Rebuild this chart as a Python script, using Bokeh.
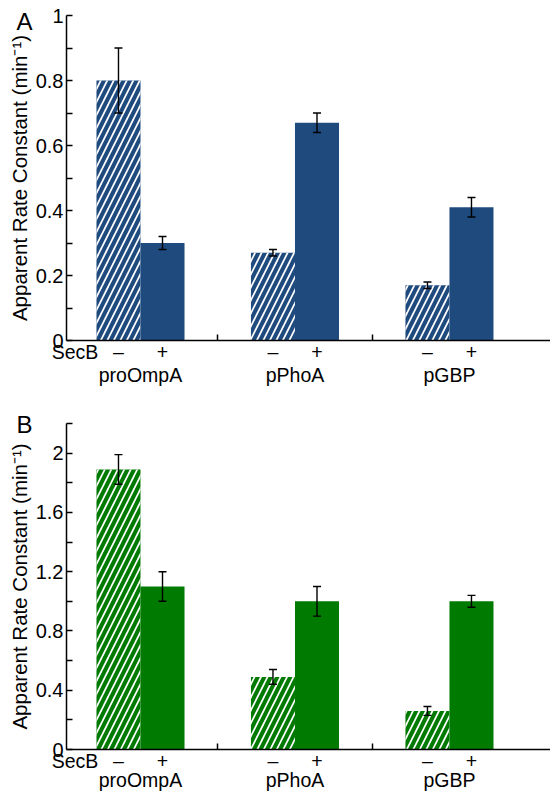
from bokeh.plotting import figure
from bokeh.models import (ColumnDataSource, FixedTicker, NumeralTickFormatter, Whisker,
                          TeeHead, Range1d, LinearAxis, CustomJSTickFormatter)
from bokeh.layouts import column
from bokeh.embed import file_html
from bokeh.resources import INLINE

# ---------------- data ----------------
groups = ["proOmpA", "pPhoA", "pGBP"]
secb_title = "SecB"
secb_states = ["\u2013", "+"]

a_minus = [0.80, 0.27, 0.17]
a_minus_err = [0.10, 0.01, 0.01]
a_plus = [0.30, 0.67, 0.41]
a_plus_err = [0.02, 0.03, 0.03]

b_minus = [1.89, 0.49, 0.26]
b_minus_err = [0.10, 0.05, 0.03]
b_plus = [1.10, 1.00, 1.00]
b_plus_err = [0.10, 0.10, 0.04]

a_major_ticks = [0, 0.2, 0.4, 0.6, 0.8, 1.0]
a_minor_ticks = [0.1, 0.3, 0.5, 0.7, 0.9]
b_major_ticks = [0, 0.4, 0.8, 1.2, 1.6, 2.0]
b_minor_ticks = [0.2, 0.6, 1.0, 1.4, 1.8, 2.2]

y_title = "Apparent Rate Constant (min\u207b\u00b9)"

BLUE = "#1f4a7e"
GREEN = "#007a00"
FONT = "Liberation Sans"
FS_X = "19.5px"
FS_Y = "20px"

OFF = 0.1425
BW = 0.285
XR = (0.521, 3.654)
SECB_X = 0.576


def idx_formatter(labels):
    return CustomJSTickFormatter(args=dict(labels=labels), code="return labels[index]")


def panel(minus, minus_err, plus, plus_err, color, ymax, major, minor,
          height, top_b, bottom_b, letter, letter_y, grp_standoff):
    p = figure(width=550, height=height, x_range=Range1d(*XR), y_range=Range1d(0, ymax),
               output_backend="svg", toolbar_location=None,
               min_border_left=66, min_border_right=0,
               min_border_top=top_b, min_border_bottom=bottom_b)
    p.outline_line_color = None
    p.xgrid.visible = False
    p.ygrid.visible = False
    p.background_fill_color = "white"
    p.border_fill_color = "white"

    n = len(groups)
    xm = [i + 1 - OFF for i in range(n)]
    xp = [i + 1 + OFF for i in range(n)]

    src_m = ColumnDataSource(dict(x=xm, top=minus,
                                  upper=[v + e for v, e in zip(minus, minus_err)],
                                  lower=[v - e for v, e in zip(minus, minus_err)]))
    src_p = ColumnDataSource(dict(x=xp, top=plus,
                                  upper=[v + e for v, e in zip(plus, plus_err)],
                                  lower=[v - e for v, e in zip(plus, plus_err)]))

    p.vbar(x="x", top="top", width=BW, source=src_m, fill_color=color, line_color=None,
           hatch_pattern="/", hatch_color="white", hatch_scale=13, hatch_weight=1.7)
    p.vbar(x="x", top="top", width=BW, source=src_p, fill_color=color, line_color=None)

    for s in (src_m, src_p):
        w = Whisker(base="x", upper="upper", lower="lower", source=s, level="overlay",
                    line_color="black", line_width=1.4,
                    upper_head=TeeHead(size=8, line_width=1.4, line_color="black"),
                    lower_head=TeeHead(size=8, line_width=1.4, line_color="black"))
        p.add_layout(w)

    # main y axis (numbers)
    yax = p.yaxis[0]
    yax.ticker = FixedTicker(ticks=major, minor_ticks=minor)
    yax.formatter = NumeralTickFormatter(format="0.[0]")
    yax.major_tick_in = 6
    yax.major_tick_out = 0
    yax.minor_tick_in = 6
    yax.minor_tick_out = 0
    yax.axis_line_width = 1.5
    yax.major_tick_line_width = 1.5
    yax.minor_tick_line_width = 1.5
    yax.major_label_text_font = FONT
    yax.major_label_text_font_size = FS_Y
    yax.major_label_text_color = "black"
    yax.major_label_standoff = 3

    # outer left axis: panel letter + axis title
    lax = LinearAxis(ticker=FixedTicker(ticks=[letter_y], minor_ticks=[]),
                     formatter=idx_formatter([letter]))
    lax.axis_line_color = None
    lax.major_tick_line_color = None
    lax.major_tick_in = 0
    lax.major_tick_out = 0
    lax.major_label_standoff = 0
    lax.major_label_text_font = FONT
    lax.major_label_text_font_size = "24px"
    lax.major_label_text_color = "black"
    lax.axis_label = y_title
    lax.axis_label_text_font = FONT
    lax.axis_label_text_font_size = "20.5px"
    lax.axis_label_text_font_style = "normal"
    lax.axis_label_text_color = "black"
    lax.axis_label_standoff = -18
    p.add_layout(lax, "left")

    # x axis: SecB -/+ labels, separator ticks as minor ticks
    row_x = [SECB_X] + [x for pair in zip(xm, xp) for x in pair]
    row_t = [secb_title] + [s for _ in range(n) for s in secb_states]
    xax = p.xaxis[0]
    xax.ticker = FixedTicker(ticks=row_x, minor_ticks=[1.5, 2.5])
    xax.formatter = idx_formatter(row_t)
    xax.major_tick_in = 0
    xax.major_tick_out = 0
    xax.minor_tick_in = 6
    xax.minor_tick_out = 0
    xax.axis_line_width = 1.5
    xax.minor_tick_line_width = 1.5
    xax.major_label_standoff = 0
    xax.major_label_text_font = FONT
    xax.major_label_text_font_size = FS_X
    xax.major_label_text_color = "black"

    # second x axis: group names
    gax = LinearAxis(ticker=FixedTicker(ticks=[i + 1 for i in range(n)], minor_ticks=[]),
                     formatter=idx_formatter(groups))
    gax.axis_line_color = None
    gax.major_tick_line_color = None
    gax.major_tick_in = 0
    gax.major_tick_out = 0
    gax.major_label_standoff = grp_standoff
    gax.major_label_text_font = FONT
    gax.major_label_text_font_size = FS_X
    gax.major_label_text_color = "black"
    p.add_layout(gax, "below")
    return p


pA = panel(a_minus, a_minus_err, a_plus, a_plus_err, BLUE, 1.0, a_major_ticks, a_minor_ticks,
           397, 15, 57, "A", 0.9815, -2)
pB = panel(b_minus, b_minus_err, b_plus, b_plus_err, GREEN, 2.2, b_major_ticks, b_minor_ticks,
           398, 26, 46, "B", 2.193, -6)

layout = column(pA, pB, spacing=0)
open("out.html", "w").write(file_html(layout, INLINE))
